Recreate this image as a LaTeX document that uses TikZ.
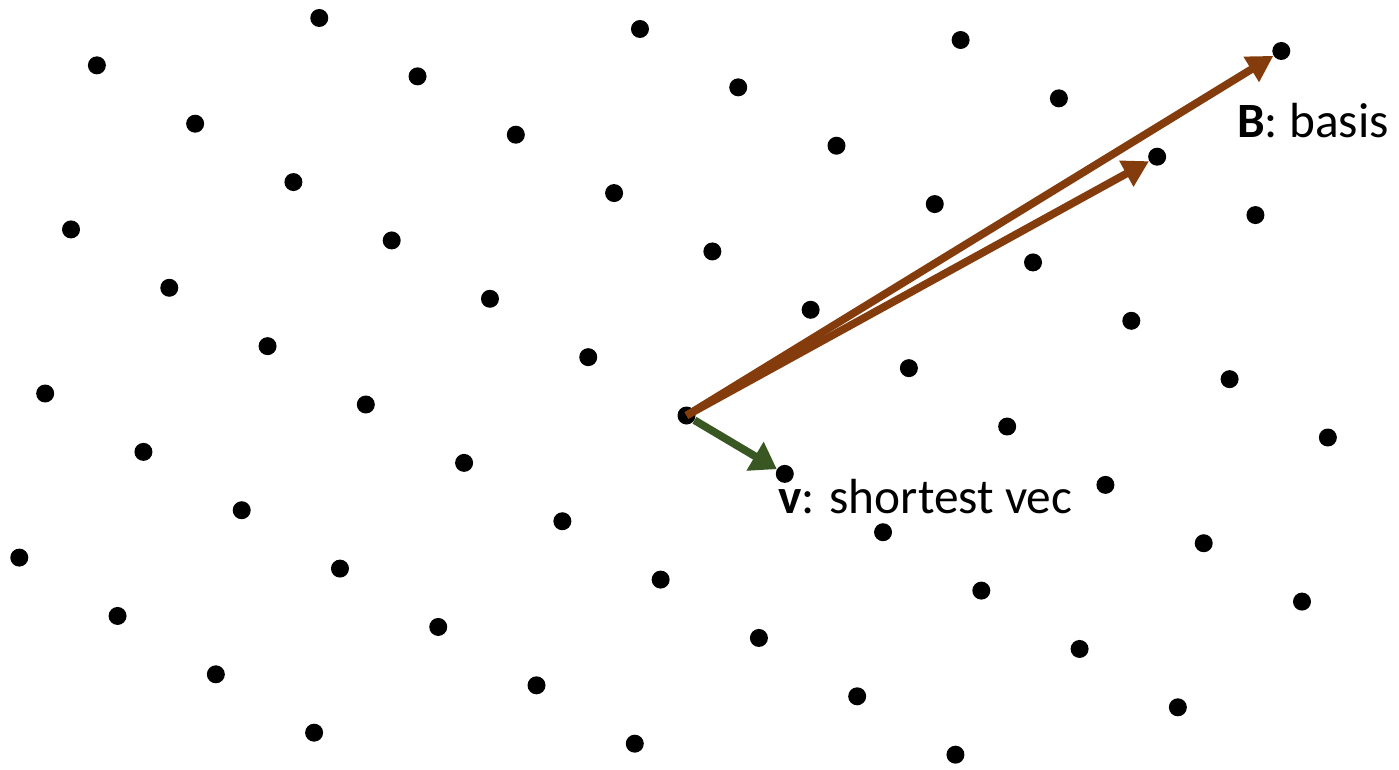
\documentclass[tikz,border=0pt]{standalone}
\usepackage{fontspec}
\setmainfont{Carlito}
\usetikzlibrary{arrows.meta}
\definecolor{basisc}{HTML}{843C0C}
\definecolor{shortc}{HTML}{385723}
\tikzset{
  dot/.style={circle, fill=black, inner sep=0pt, minimum size=13.5pt},
  basisarr/.style={-{Triangle[length=19.5pt,width=21pt]}, line width=5.8pt, draw=basisc},
  shortarr/.style={-{Triangle[length=19pt,width=24pt]}, line width=5.8pt, draw=shortc},
  lbl/.style={font=\fontsize{37}{44}\selectfont, anchor=base west, inner sep=0pt},
}

\begin{document}
\begin{tikzpicture}[x=0.75pt, y=-0.75pt]
\useasboundingbox (0,0) rectangle (1399,769);

% the lattice: origin plus i*a + j*c, kept inside the frame
\foreach \i in {-7,...,6} {
  \foreach \j in {-3,...,4} {
    \pgfmathsetmacro\px{686.5+\i*98.27+\j*320.67}
    \pgfmathsetmacro\py{415.5+\i*58.36+\j*11}
    \pgfmathtruncatemacro\inside{(\px>10)&&(\px<1340)&&(\py>10)&&(\py<760)}
    \ifnum\inside=1
      \node[dot] (p\i_\j) at (\px,\py) {};
    \fi
  }
}

% basis vectors and the shortest one
\draw[basisarr] (p0_0.center) -- (p-7_4);
\draw[basisarr] (p0_0.center) -- (p-5_3);
\draw[shortarr] (p0_0) -- (p1_0);

\node[lbl] (basis) at (1237,137) {\textbf{B}: basis};
\node[lbl] (short) at (778,513) {\textbf{v}: shortest vec};
\end{tikzpicture}
\end{document}
